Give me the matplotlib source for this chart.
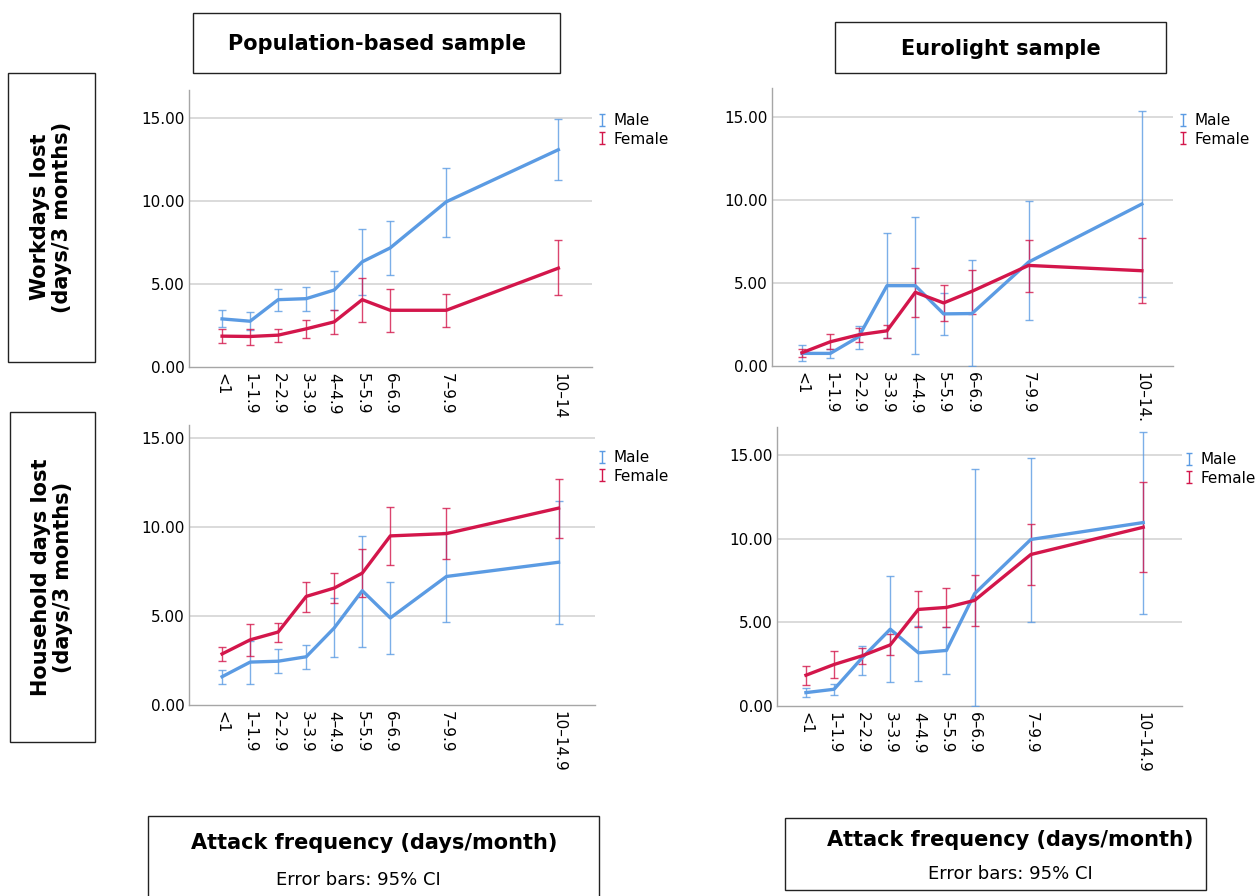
import numpy as np
import matplotlib
matplotlib.use("Agg")
import matplotlib.pyplot as plt
from matplotlib.path import Path
from matplotlib.lines import Line2D
from matplotlib.patches import Rectangle

# attack frequency groups (plotted at class midpoints)
x_mid = [0.5, 1.5, 2.5, 3.5, 4.5, 5.5, 6.5, 8.5, 12.5]
labels_a = ["<1", "1–1.9", "2–2.9", "3–3.9", "4–4.9", "5–5.9", "6–6.9", "7–9.9", "10–14"]
labels_b = ["<1", "1–1.9", "2–2.9", "3–3.9", "4–4.9", "5–5.9", "6–6.9", "7–9.9", "10–14."]
labels_c = ["<1", "1–1.9", "2–2.9", "3–3.9", "4–4.9", "5–5.9", "6–6.9", "7–9.9", "10–14.9"]

# population-based sample, workdays lost
pop_work_m = [2.90, 2.76, 4.06, 4.12, 4.64, 6.34, 7.18, 9.96, 13.10]
pop_work_m_lo = [2.44, 2.24, 3.40, 3.40, 3.44, 4.34, 5.52, 7.86, 11.30]
pop_work_m_hi = [3.44, 3.30, 4.70, 4.84, 5.80, 8.30, 8.82, 11.98, 14.94]
pop_work_f = [1.86, 1.84, 1.92, 2.30, 2.72, 4.06, 3.42, 3.42, 5.96]
pop_work_f_lo = [1.46, 1.30, 1.50, 1.76, 2.00, 2.74, 2.12, 2.40, 4.32]
pop_work_f_hi = [2.28, 2.30, 2.32, 2.82, 3.44, 5.38, 4.70, 4.40, 7.64]

# eurolight sample, workdays lost
eur_work_m = [0.76, 0.76, 1.76, 4.84, 4.84, 3.14, 3.16, 6.26, 9.76]
eur_work_m_lo = [0.32, 0.50, 1.04, 1.70, 0.74, 1.88, 0.00, 2.76, 4.16]
eur_work_m_hi = [1.26, 1.04, 2.40, 8.00, 8.96, 4.40, 6.40, 9.94, 15.34]
eur_work_f = [0.80, 1.46, 1.88, 2.12, 4.44, 3.80, 4.50, 6.06, 5.74]
eur_work_f_lo = [0.56, 1.00, 1.44, 1.68, 2.94, 2.72, 3.16, 4.44, 3.80]
eur_work_f_hi = [1.04, 1.94, 2.28, 2.50, 5.90, 4.88, 5.80, 7.60, 7.70]

# population-based sample, household days lost
pop_home_m = [1.59, 2.41, 2.46, 2.71, 4.33, 6.42, 4.89, 7.22, 8.02]
pop_home_m_lo = [1.19, 1.16, 1.79, 2.01, 2.71, 3.28, 2.84, 4.66, 4.57]
pop_home_m_hi = [1.98, 3.60, 3.12, 3.38, 6.00, 9.50, 6.90, 9.70, 11.47]
pop_home_f = [2.87, 3.66, 4.10, 6.10, 6.57, 7.41, 9.50, 9.63, 11.06]
pop_home_f_lo = [2.48, 2.76, 3.56, 5.22, 5.73, 6.06, 7.87, 8.19, 9.40]
pop_home_f_hi = [3.25, 4.57, 4.63, 6.92, 7.41, 8.77, 11.10, 11.08, 12.72]

# eurolight sample, household days lost
eur_home_m = [0.80, 1.00, 2.88, 4.59, 3.18, 3.32, 6.71, 9.95, 10.96]
eur_home_m_lo = [0.52, 0.68, 1.86, 1.46, 1.52, 1.92, 0.00, 4.99, 5.51]
eur_home_m_hi = [1.08, 1.30, 3.60, 7.77, 4.80, 4.70, 14.16, 14.80, 16.40]
eur_home_f = [1.84, 2.48, 3.00, 3.65, 5.77, 5.89, 6.31, 9.05, 10.68]
eur_home_f_lo = [1.26, 1.68, 2.50, 3.02, 4.71, 4.73, 4.77, 7.25, 8.01]
eur_home_f_hi = [2.38, 3.28, 3.46, 4.31, 6.85, 7.03, 7.81, 10.85, 13.38]

MALE = "#5b9be3"
FEMALE = "#d3164b"
W, H = 1260, 896

fig = plt.figure(figsize=(W / 100, H / 100), dpi=100)


def rect(l, r, t, b):
    return [l / W, 1 - b / H, (r - l) / W, (b - t) / H]


# I-shaped legend marker like the error bar glyph
ibar = Path([(0, -1), (0, 1), (-0.45, 1), (0.45, 1), (-0.45, -1), (0.45, -1)],
            [Path.MOVETO, Path.LINETO, Path.MOVETO, Path.LINETO, Path.MOVETO, Path.LINETO])


def panel(box, xlim, ytop, labels, m, m_lo, m_hi, f, f_lo, f_hi, leg_xy):
    ax = fig.add_axes(rect(*box))
    for y, lo, hi, c in [(m, m_lo, m_hi, MALE), (f, f_lo, f_hi, FEMALE)]:
        y = np.array(y)
        err = [y - np.array(lo), np.array(hi) - y]
        ax.errorbar(x_mid, y, yerr=err, fmt="none", ecolor=c, elinewidth=1.0,
                    capsize=3, capthick=1.0, alpha=0.8, zorder=3)
        ax.plot(x_mid, y, color=c, lw=2.4, zorder=4, solid_joinstyle="round")
    ax.set_xlim(*xlim)
    ax.set_ylim(0, ytop)
    ax.set_yticks([0, 5, 10, 15])
    ax.set_yticklabels(["0.00", "5.00", "10.00", "15.00"], fontsize=11)
    ax.set_xticks(x_mid)
    ax.set_xticklabels(labels, rotation=-90, fontsize=11, va="top", ha="center")
    ax.tick_params(length=0, pad=4)
    ax.tick_params(axis="y", pad=3)
    for s in ["top", "right"]:
        ax.spines[s].set_visible(False)
    for s in ["left", "bottom"]:
        ax.spines[s].set_color("#a6a6a6")
        ax.spines[s].set_linewidth(1.0)
    for g in [5, 10, 15]:
        ax.axhline(g, color="#d4d4d4", lw=1.2, zorder=1)
    handles = [Line2D([], [], ls="none", marker=ibar, markersize=9, mfc="none",
                      mec=MALE, mew=1.0),
               Line2D([], [], ls="none", marker=ibar, markersize=9, mfc="none",
                      mec=FEMALE, mew=1.0)]
    fig.legend(handles, ["Male", "Female"], loc="upper left",
               bbox_to_anchor=(leg_xy[0] / W, 1 - leg_xy[1] / H), frameon=False,
               fontsize=11, handlelength=0.5, handletextpad=0.5,
               labelspacing=0.25, borderpad=0, borderaxespad=0)
    return ax


panel((189, 592, 90, 367), (-0.68, 13.7), 16.7, labels_a,
      pop_work_m, pop_work_m_lo, pop_work_m_hi, pop_work_f, pop_work_f_lo, pop_work_f_hi,
      (598, 113))
panel((772, 1173, 88, 366), (-0.56, 13.6), 16.75, labels_b,
      eur_work_m, eur_work_m_lo, eur_work_m_hi, eur_work_f, eur_work_f_lo, eur_work_f_hi,
      (1179, 113))
panel((189, 595, 425, 705), (-0.68, 13.8), 15.73, labels_c,
      pop_home_m, pop_home_m_lo, pop_home_m_hi, pop_home_f, pop_home_f_lo, pop_home_f_hi,
      (598, 450))
panel((777, 1182, 427, 706), (-0.53, 13.88), 16.67, labels_c,
      eur_home_m, eur_home_m_lo, eur_home_m_hi, eur_home_f, eur_home_f_lo, eur_home_f_hi,
      (1185, 452))


def box(l, r, t, b):
    fig.patches.append(Rectangle((l / W, 1 - b / H), (r - l) / W, (b - t) / H,
                                 transform=fig.transFigure, fill=False,
                                 ec="#222222", lw=1.0))


def txt(x, y, s, **kw):
    fig.text(x / W, 1 - y / H, s, ha="center", va="center", **kw)


box(193, 560, 13, 73)
txt(377, 44, "Population-based sample", fontsize=15, fontweight="bold")
box(835, 1166, 22, 73)
txt(1001, 49, "Eurolight sample", fontsize=15, fontweight="bold")

box(8, 95, 73, 362)
txt(51, 217, "Workdays lost\n(days/3 months)", fontsize=15, fontweight="bold",
    rotation=90, linespacing=1.1)
box(10, 95, 412, 742)
txt(52, 577, "Household days lost\n(days/3 months)", fontsize=15, fontweight="bold",
    rotation=90, linespacing=1.1)

box(148, 599, 816, 900)
txt(374, 843, "Attack frequency (days/month)", fontsize=15, fontweight="bold")
txt(358, 880, "Error bars: 95% CI", fontsize=13)
box(785, 1206, 818, 890)
txt(1010, 840, "Attack frequency (days/month)", fontsize=15, fontweight="bold")
txt(1010, 874, "Error bars: 95% CI", fontsize=13)

fig.savefig("out.png", dpi=100)
